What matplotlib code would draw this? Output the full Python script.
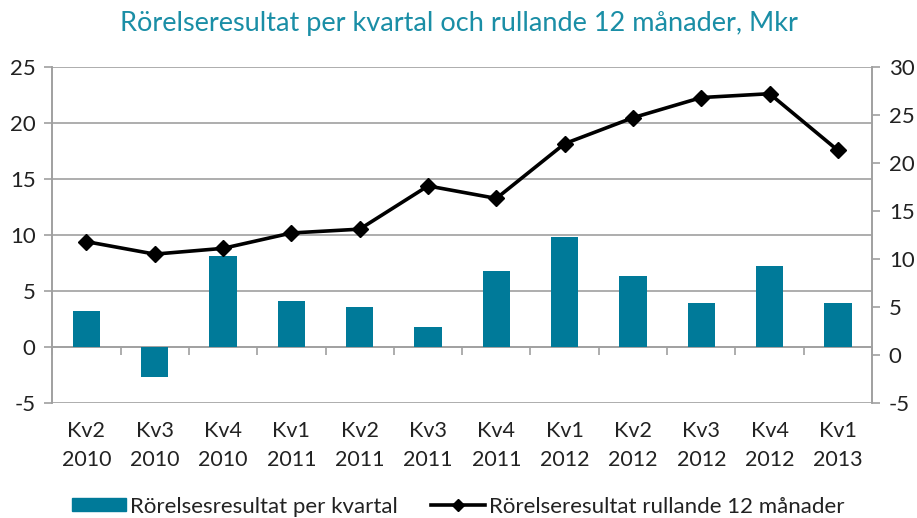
import numpy as np
import matplotlib.pyplot as plt
from matplotlib.lines import Line2D
from matplotlib.patches import Patch
from matplotlib.transforms import blended_transform_factory

quarters = ['Kv2\n2010', 'Kv3\n2010', 'Kv4\n2010', 'Kv1\n2011', 'Kv2\n2011', 'Kv3\n2011',
            'Kv4\n2011', 'Kv1\n2012', 'Kv2\n2012', 'Kv3\n2012', 'Kv4\n2012', 'Kv1\n2013']
per_quarter = [3.2, -2.7, 8.1, 4.1, 3.6, 1.8, 6.8, 9.8, 6.3, 3.9, 7.2, 3.9]
rolling_12 = [11.8, 10.5, 11.1, 12.7, 13.1, 17.6, 16.3, 22.0, 24.7, 26.8, 27.2, 21.3]
series_names = ['Rörelsesresultat per kvartal', 'Rörelseresultat rullande 12 månader']

plt.rcParams['font.family'] = ['Lato', 'DejaVu Sans']
plt.rcParams['axes.unicode_minus'] = False

teal = '#007a99'
grey = '#a0a0a0'
txt = '#222222'

fig = plt.figure(figsize=(9.17, 5.18), dpi=100)
ax = fig.add_axes([0.057, 0.222, 0.894, 0.649])
ax2 = ax.twinx()

x = np.arange(len(quarters))
ax.bar(x, per_quarter, width=0.4, color=teal, zorder=3)
ax2.plot(x, rolling_12, color='black', lw=2.6, marker='D', ms=8, zorder=4)

ax.set_xlim(-0.5, len(quarters) - 0.5)
ax.set_ylim(-5, 25)
ax.set_yticks(range(-5, 26, 5))
ax2.set_ylim(-5, 30)
ax2.set_yticks(range(-5, 31, 5))

ax.grid(axis='y', color=grey, lw=1.2, zorder=0)
ax.set_axisbelow(True)

for a in (ax, ax2):
    a.spines['top'].set_visible(False)
    a.spines['left'].set_color(grey)
    a.spines['right'].set_color(grey)
    a.spines['left'].set_linewidth(1.2)
    a.spines['right'].set_linewidth(1.2)
    a.spines['bottom'].set_visible(False)

ax.spines['bottom'].set_visible(True)
ax.spines['bottom'].set_position(('data', 0))
ax.spines['bottom'].set_color(grey)
ax.spines['bottom'].set_linewidth(1.2)
ax.set_xticks(np.arange(-0.5, len(quarters), 1.0))
ax.set_xticklabels([])
ax.tick_params(axis='x', direction='out', length=6, color=grey, width=1.2)
ax.tick_params(axis='y', direction='out', length=6, color=grey, width=1.2,
               labelsize=16, labelcolor=txt, pad=6)
ax2.tick_params(axis='y', direction='out', length=6, color=grey, width=1.2,
                labelsize=16, labelcolor=txt, pad=6)

trans = blended_transform_factory(ax.transData, ax.transAxes)
for xi, lab in zip(x, quarters):
    ax.text(xi, -0.055, lab, transform=trans, ha='center', va='top',
            fontsize=15.5, color=txt, linespacing=1.55)

fig.text(0.5, 0.955, 'Rörelseresultat per kvartal och rullande 12 månader, Mkr',
         ha='center', va='center', fontsize=19.5, color='#1a8ea6')

handles = [Patch(color=teal),
           Line2D([], [], color='black', lw=2.6, marker='D', ms=6)]
fig.legend(handles, series_names, loc='center', bbox_to_anchor=(0.5, 0.022), ncol=2,
           frameon=False, fontsize=16, handlelength=2.4, handleheight=0.5,
           handletextpad=0.2, columnspacing=1.5, labelcolor=txt)

fig.savefig('out.png', dpi=100)
